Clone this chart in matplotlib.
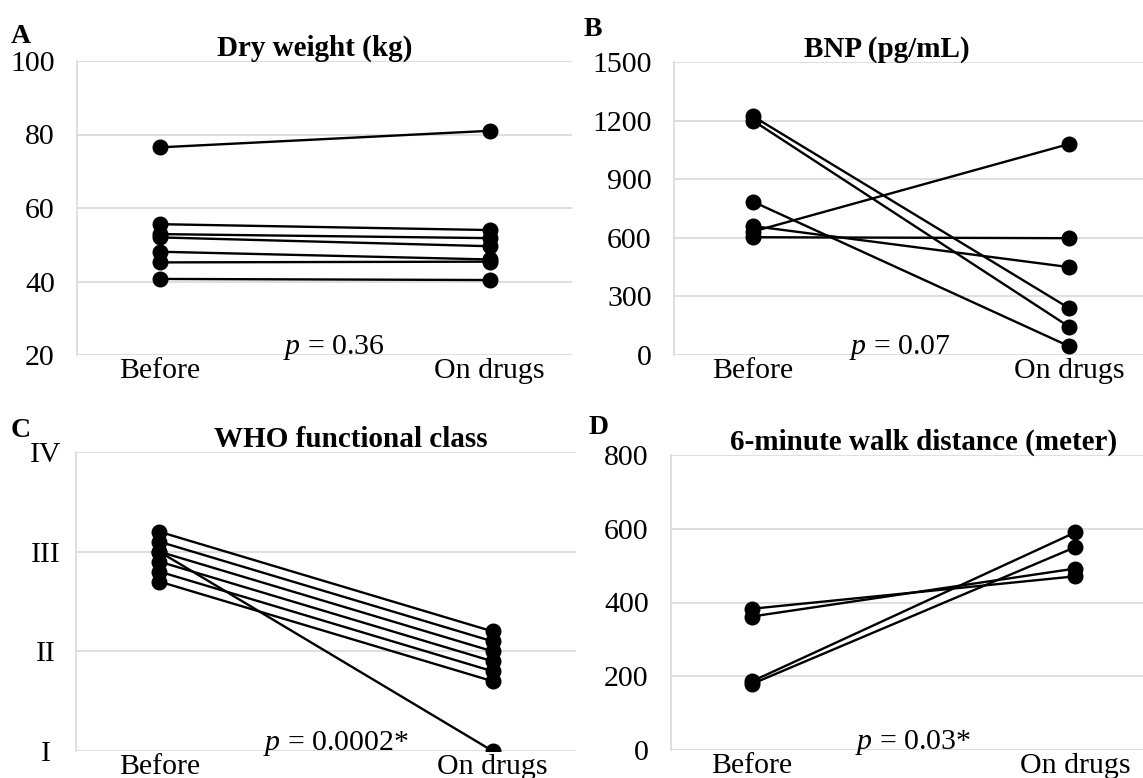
import matplotlib
matplotlib.use("Agg")
import matplotlib.pyplot as plt

plt.rcParams['font.family'] = ['Liberation Serif', 'DejaVu Serif']
plt.rcParams['mathtext.fontset'] = 'custom'
plt.rcParams['mathtext.rm'] = 'Liberation Serif'
plt.rcParams['mathtext.it'] = 'Liberation Serif:italic'

# categories
groups = ["Before", "On drugs"]

# A: dry weight (kg)
weight_before = [76.5, 55.6, 52.9, 52.0, 48.1, 45.2, 40.7]
weight_after = [81.0, 54.0, 51.8, 49.6, 46.0, 45.4, 40.4]

# B: BNP (pg/mL)
bnp_before = [1222, 1200, 785, 660, 632, 603]
bnp_after = [240, 145, 45, 450, 1080, 598]

# C: WHO functional class (jittered for visibility)
who_before = [3.2, 3.1, 3.0, 2.9, 2.8, 2.7, 3.0]
who_after = [2.2, 2.1, 2.0, 1.9, 1.8, 1.7, 1.0]
who_ticks = [1, 2, 3, 4]
who_labels = ["I", "II", "III", "IV"]

# D: 6-minute walk distance (meter)
walk_before = [383, 362, 186, 179]
walk_after = [471, 492, 590, 550]

W, H = 1143, 778
FS = 21.5
fig = plt.figure(figsize=(W / 100, H / 100), dpi=100)
fig.patch.set_facecolor('white')


def rect(left, top, right, bottom):
    return [left / W, 1 - bottom / H, (right - left) / W, (bottom - top) / H]


def panel(box, before, after, ylim, yticks, title, title_x, letter, letter_xy,
          ptext, p_x, ylabels=None, label_pad=16):
    ax = fig.add_axes(rect(*box))
    for b, a in zip(before, after):
        ax.plot([0, 1], [b, a], color='black', lw=1.7, marker='o', ms=10.5,
                solid_capstyle='round', zorder=3)
    ax.set_xlim(-0.25, 1.25)
    ax.set_ylim(*ylim)
    ax.set_yticks(yticks)
    if ylabels is not None:
        ax.set_yticklabels(ylabels)
    ax.set_xticks([0, 1])
    ax.set_xticklabels(groups)
    ax.tick_params(axis='both', length=0, labelsize=FS)
    ax.tick_params(axis='y', pad=label_pad)
    ax.tick_params(axis='x', pad=2)
    ax.yaxis.grid(True, color='#d9d9d9', lw=1.2)
    ax.set_axisbelow(True)
    for s in ['top', 'right', 'bottom']:
        ax.spines[s].set_visible(False)
    ax.spines['left'].set_color('#d9d9d9')
    ax.spines['left'].set_linewidth(1.2)
    ax.text(title_x, 1.017, title, transform=ax.transAxes, ha='center',
            va='baseline', fontsize=21, fontweight='bold')
    ax.text(p_x, 0.005, ptext, transform=ax.transAxes, ha='center',
            va='baseline', fontsize=FS)
    fig.text(letter_xy[0] / W, 1 - letter_xy[1] / H, letter, fontsize=20,
             fontweight='bold', ha='left', va='baseline')
    return ax


panel((77, 61, 572, 355), weight_before, weight_after, (20, 100),
      [20, 40, 60, 80, 100], "Dry weight (kg)", 0.48, "A", (11, 43),
      r"$p$ = 0.36", 0.52)

panel((674, 62, 1148, 355), bnp_before, bnp_after, (0, 1500),
      [0, 300, 600, 900, 1200, 1500], "BNP (pg/mL)", 0.45, "B", (584, 36),
      r"$p$ = 0.07", 0.477)

axc = panel((76, 452, 576, 751), who_before, who_after, (1, 4),
            who_ticks, "WHO functional class", 0.55, "C", (11, 437),
            r"$p$ = 0.0002*", 0.52, ylabels=who_labels)
for lab in axc.get_yticklabels():
    lab.set_horizontalalignment('center')
axc.tick_params(axis='y', pad=22)

panel((671, 455, 1156, 750), walk_before, walk_after, (0, 800),
      [0, 200, 400, 600, 800], "6-minute walk distance (meter)", 0.52, "D",
      (589, 434), r"$p$ = 0.03*", 0.50)

fig.savefig("out.png", dpi=100, facecolor='white')
